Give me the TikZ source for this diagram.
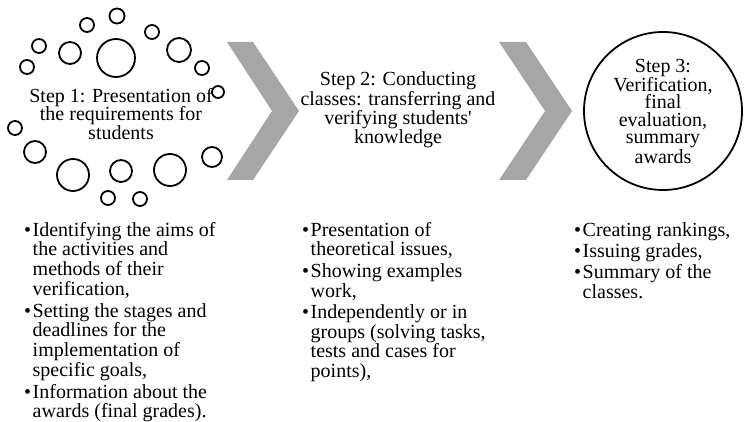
\documentclass[tikz,border=0pt]{standalone}
\usepackage{fontspec}
\setmainfont{Liberation Serif}
\definecolor{chevgray}{HTML}{A6A6A6}

\tikzset{
  ring/.style={draw, circle, line width=1.8pt, inner sep=0pt},
  steptext/.style={align=center, inner sep=0pt, font=\fontsize{20}{18.5}\selectfont},
  bulletlist/.style={anchor=north west, inner sep=0pt, font=\fontsize{20}{19}\selectfont},
  chevron/.style={fill=chevgray, draw=none},
}

\begin{document}
\begin{tikzpicture}[x=1pt, y=-1pt]
	\useasboundingbox (0,0) rectangle (749,422);

	% step 1 and its ring of circles
	\node [steptext] (step1) at (121,114) {Step 1: Presentation of\\the requirements for\\students};

	\node [ring, minimum size=15] (r1) at (117,16) {};
	\node [ring, minimum size=14] (r2) at (87,25) {};
	\node [ring, minimum size=14] (r3) at (152,32) {};
	\node [ring, minimum size=14] (r4) at (39,46) {};
	\node [ring, minimum size=22] (r5) at (70,53) {};
	\node [ring, minimum size=38] (r6) at (116,58) {};
	\node [ring, minimum size=24] (r7) at (179,50) {};
	\node [ring, minimum size=14] (r8) at (27,67) {};
	\node [ring, minimum size=14] (r9) at (202,68) {};
	\node [ring, minimum size=12] (r10) at (218,92) {};
	\node [ring, minimum size=14] (r11) at (15,128) {};
	\node [ring, minimum size=22] (r12) at (35,152) {};
	\node [ring, minimum size=32] (r13) at (73,175) {};
	\node [ring, minimum size=22] (r14) at (121,171) {};
	\node [ring, minimum size=32] (r15) at (170,170) {};
	\node [ring, minimum size=20] (r16) at (212,157) {};
	\node [ring, minimum size=14] (r17) at (108,198) {};
	\node [ring, minimum size=14] (r18) at (140,199) {};

	% chevrons
	\fill [chevron] (227,42) -- (253,42) -- (299,111) -- (253,180) -- (227,180) -- (272,111) -- cycle;
	\fill [chevron] (499,42) -- (526,42) -- (572,111) -- (526,180) -- (499,180) -- (545,111) -- cycle;

	% step 2
	\node [steptext, font=\fontsize{20}{19.3}\selectfont] (step2) at (398,110) {Step 2: Conducting\\classes: transferring and\\verifying students\textquotesingle\\knowledge};

	% step 3
	\node [draw, circle, line width=1.8pt, minimum size=158] (ring3) at (663,111) {};
	\node [steptext, font=\fontsize{20}{17.5}\selectfont] (step3) at (ring3.center) {Step 3:\\Verification,\\final\\evaluation,\\summary\\awards};

	% bullet lists
	\node [bulletlist] (aims) at (24,222) {\begin{tabular}{@{}l@{\hspace{1.5pt}}l@{}}
		\textbullet & Identifying the aims of\\
		 & the activities and\\
		 & methods of their\\
		 & verification,\\[2pt]
		\textbullet & Setting the stages and\\
		 & deadlines for the\\
		 & implementation of\\
		 & specific goals,\\[2pt]
		\textbullet & Information about the\\
		 & awards (final grades).
	\end{tabular}};

	\node [bulletlist] (classes) at (302,222) {\begin{tabular}{@{}l@{\hspace{1.5pt}}l@{}}
		\textbullet & Presentation of\\
		 & theoretical issues,\\[2pt]
		\textbullet & Showing examples\\
		 & work,\\[2pt]
		\textbullet & Independently or in\\
		 & groups (solving tasks,\\
		 & tests and cases for\\
		 & points),
	\end{tabular}};

	\node [bulletlist] (awards) at (574,222) {\begin{tabular}{@{}l@{\hspace{1.5pt}}l@{}}
		\textbullet & Creating rankings,\\[1.5pt]
		\textbullet & Issuing grades,\\[1.5pt]
		\textbullet & Summary of the\\
		 & classes.
	\end{tabular}};

\end{tikzpicture}
\end{document}
